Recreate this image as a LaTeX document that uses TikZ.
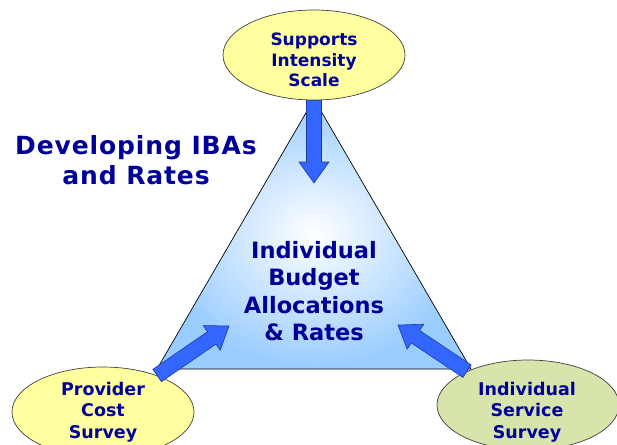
\documentclass[tikz,border=0pt]{standalone}
\usepackage{fontspec}
\setmainfont{DejaVu Sans}
\usetikzlibrary{shapes.geometric,calc}
\definecolor{navy}{RGB}{0,0,153}
\definecolor{ellyellow}{RGB}{255,255,160}
\definecolor{ellgreen}{RGB}{215,228,172}
\definecolor{triblue}{RGB}{153,204,255}
\definecolor{arrblue}{RGB}{51,102,255}
\definecolor{arredge}{RGB}{30,60,160}
\newcommand\fatarrow[2]{%
  \coordinate (hb) at ($(#2)!21pt!(#1)$);
  \filldraw[arrowstyle] ($(#1)!7.5pt!90:(#2)$) -- ($(hb)!7.5pt!90:(#2)$) -- ($(hb)!15pt!90:(#2)$) -- (#2) -- ($(hb)!15pt!-90:(#2)$) -- ($(hb)!7.5pt!-90:(#2)$) -- ($(#1)!7.5pt!-90:(#2)$) -- cycle;}
\tikzset{
  ell/.style={ellipse, draw=black!75, line width=0.7pt, minimum width=182pt, minimum height=90pt, inner sep=0pt},
  etext/.style={font=\fontsize{17.5}{21.5}\selectfont\bfseries, text=navy, align=center, inner sep=0pt},
  arrowstyle/.style={fill=arrblue, draw=arredge, line width=0.6pt, line join=miter},
}
\begin{document}
\begin{tikzpicture}[x=1pt,y=-1pt]
\useasboundingbox (0,0) rectangle (617,444);
% triangle
\coordinate (ta) at (314,99);
\coordinate (tl) at (157,369);
\coordinate (tr) at (471,369);
\shade[inner color=white, outer color=triblue] (ta) -- (tl) -- (tr) -- cycle;
\draw[black, line width=0.7pt, line join=miter] (ta) -- (tl) -- (tr) -- cycle;
% ellipses
\node[ell, fill=ellyellow] (sis) at (314,55) {};
\node[etext, font=\fontsize{17}{20.5}\selectfont\bfseries] (sist) at (314,60) {Supports\\Intensity\\Scale};
\node[ell, fill=ellyellow] (pcs) at (103,412) {};
\node[etext] (pcst) at (103,412) {Provider\\Cost\\Survey};
\node[ell, fill=ellgreen] (iss) at (528,405) {};
\node[etext] (isst) at (527,412) {Individual\\Service\\Survey};
% heading
\node[font=\fontsize{25}{30}\selectfont\bfseries\addfontfeature{LetterSpace=3.5}, text=navy, align=center, inner sep=0pt] (head) at (136,160) {Developing IBAs\\and Rates};
% centre text
\node[font=\fontsize{22.5}{27.5}\selectfont\bfseries, text=navy, align=center, inner sep=0pt] (iba) at (314,291) {Individual\\Budget\\Allocations\\\& Rates};
% arrows
\coordinate (tipT) at (314,183);
\coordinate (tipL) at (229,326);
\coordinate (tipR) at (398,325);
\fatarrow{sis.south}{tipT}
\fatarrow{pcs.34}{tipL}
\fatarrow{iss.151}{tipR}
\end{tikzpicture}
\end{document}
